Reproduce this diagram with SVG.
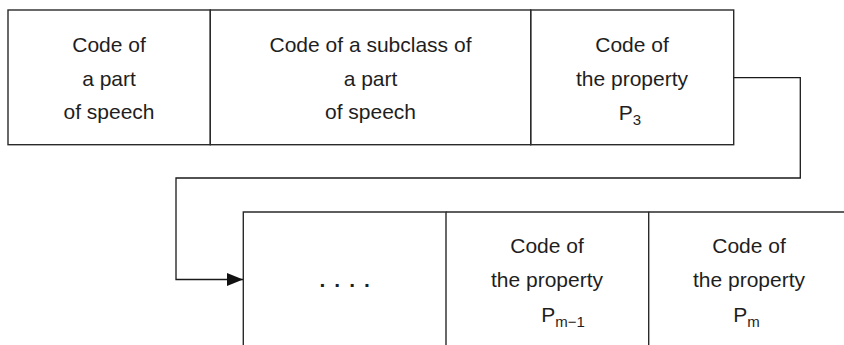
<svg xmlns="http://www.w3.org/2000/svg" width="844" height="345" viewBox="0 0 844 345">
<style>
.box{fill:none;stroke:#2a2a2a;stroke-width:1.4}
.con{fill:none;stroke:#1a1a1a;stroke-width:1.3}
text{font-family:"Liberation Sans",Arial,sans-serif;font-size:21px;fill:#1e1e1e;text-anchor:middle}
.sub{font-size:15px}
.dots{font-weight:bold;letter-spacing:1.6px}
</style>
<defs>
<marker id="arr" markerWidth="16" markerHeight="13" refX="16" refY="6.5" orient="auto" markerUnits="userSpaceOnUse">
<path d="M0,0 L16,6.5 L0,13 Z" fill="#111"/>
</marker>
</defs>
<g id="n1">
<rect class="box" x="8" y="10" width="202.3" height="134.7"/>
<text x="109" y="52">Code of</text>
<text x="109" y="85.5">a part</text>
<text x="109" y="119">of speech</text>
</g>
<g id="n2">
<rect class="box" x="210.3" y="10" width="320.4" height="134.7"/>
<text x="370.5" y="52">Code of a subclass of</text>
<text x="370.5" y="85.5">a part</text>
<text x="370.5" y="119">of speech</text>
</g>
<g id="n3">
<rect class="box" x="530.7" y="10" width="203" height="134.7"/>
<text x="632" y="52">Code of</text>
<text x="632" y="85.5">the property</text>
<text x="630" y="120">P<tspan class="sub" dy="5">3</tspan></text>
</g>
<g id="n4">
<path class="box" d="M243.3,345 V212 H446 V345"/>
<text class="dots" x="345.5" y="286.5">. . . .</text>
</g>
<g id="n5">
<path class="box" d="M446,212 H648.7 V345"/>
<text x="547" y="253">Code of</text>
<text x="547" y="287">the property</text>
<text x="563" y="321.7">P<tspan class="sub" dy="5">m−1</tspan></text>
</g>
<g id="n6">
<path class="box" d="M648.7,212 H844"/>
<text x="749" y="253">Code of</text>
<text x="749" y="287">the property</text>
<text x="746.5" y="321.7">P<tspan class="sub" dy="5">m</tspan></text>
</g>
<g id="connectors">
<path class="con" d="M733.7,77.7 H800.3 V178 H176 V279.5 H243" marker-end="url(#arr)"/>
</g>
</svg>
